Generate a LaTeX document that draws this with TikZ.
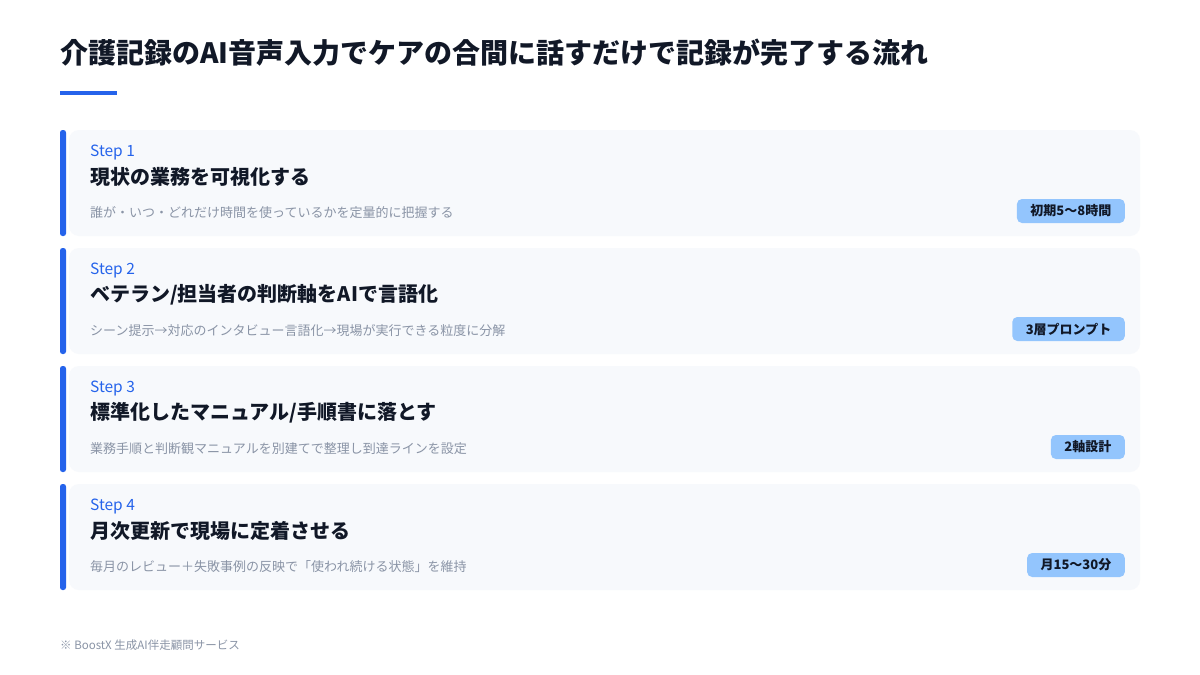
\documentclass[tikz,border=0pt]{standalone}
\usepackage{fontspec}
\setmainfont{Noto Sans CJK JP}
\definecolor{accent}{HTML}{2563EB}
\definecolor{cardbg}{HTML}{F7F9FC}
\definecolor{badgebg}{HTML}{93C5FD}
\definecolor{ink}{HTML}{111827}
\definecolor{muted}{HTML}{8A94A6}
\tikzset{
  card/.style={fill=cardbg, draw=none, rounded corners=10pt},
  sidebar/.style={fill=accent, draw=none, rounded corners=2.5pt},
  steplabel/.style={anchor=west, inner sep=0pt, text=accent, font=\fontsize{15.5}{18}\selectfont},
  steptitle/.style={anchor=west, inner sep=0pt, text=ink, font=\bfseries\fontsize{20}{24}\selectfont},
  stepdesc/.style={anchor=west, inner sep=0pt, text=muted, font=\fontsize{13}{16}\selectfont},
  badge/.style={anchor=east, fill=badgebg, rounded corners=5pt, text=ink, inner xsep=13.5pt, minimum height=24pt, inner ysep=0pt, font=\bfseries\fontsize{13}{16}\selectfont},
}
\begin{document}
\begin{tikzpicture}[x=1pt,y=-1pt]
\useasboundingbox[fill=white] (0,0) rectangle (1200,675);
\node[anchor=west, inner sep=0pt, text=ink, font=\bfseries\fontsize{28}{34}\selectfont] (title) at (60,53) {介護記録のAI音声入力でケアの合間に話すだけで記録が完了する流れ};
\fill[accent] (60,90.5) rectangle (117,94.5);
\foreach \i/\lab/\ttl/\desc/\bd in {
  0/{Step 1}/{現状の業務を可視化する}/{誰が・いつ・どれだけ時間を使っているかを定量的に把握する}/{初期5〜8時間},
  1/{Step 2}/{ベテラン/担当者の判断軸をAIで言語化}/{シーン提示→対応のインタビュー言語化→現場が実行できる粒度に分解}/{3層プロンプト},
  2/{Step 3}/{標準化したマニュアル/手順書に落とす}/{業務手順と判断観マニュアルを別建てで整理し到達ラインを設定}/{2軸設計},
  3/{Step 4}/{月次更新で現場に定着させる}/{毎月のレビュー＋失敗事例の反映で「使われ続ける状態」を維持}/{月15〜30分}}{
  \pgfmathsetmacro{\yy}{130+118*\i}
  \fill[card] (69,\yy) rectangle (1140,\yy+106);
  \fill[sidebar] (60,\yy) rectangle (66,\yy+106);
  \node[steplabel] (lab\i) at (90,\yy+22.5) {\lab};
  \node[steptitle] (ttl\i) at (90,\yy+47) {\ttl};
  \node[stepdesc] (desc\i) at (90,\yy+82.5) {\desc};
  \node[badge] (bd\i) at (1125,\yy+81) {\bd};
}
\node[anchor=west, inner sep=0pt, text=muted, font=\fontsize{11.5}{14}\selectfont] (foot) at (60,645) {※ BoostX 生成AI伴走顧問サービス};
\end{tikzpicture}
\end{document}
